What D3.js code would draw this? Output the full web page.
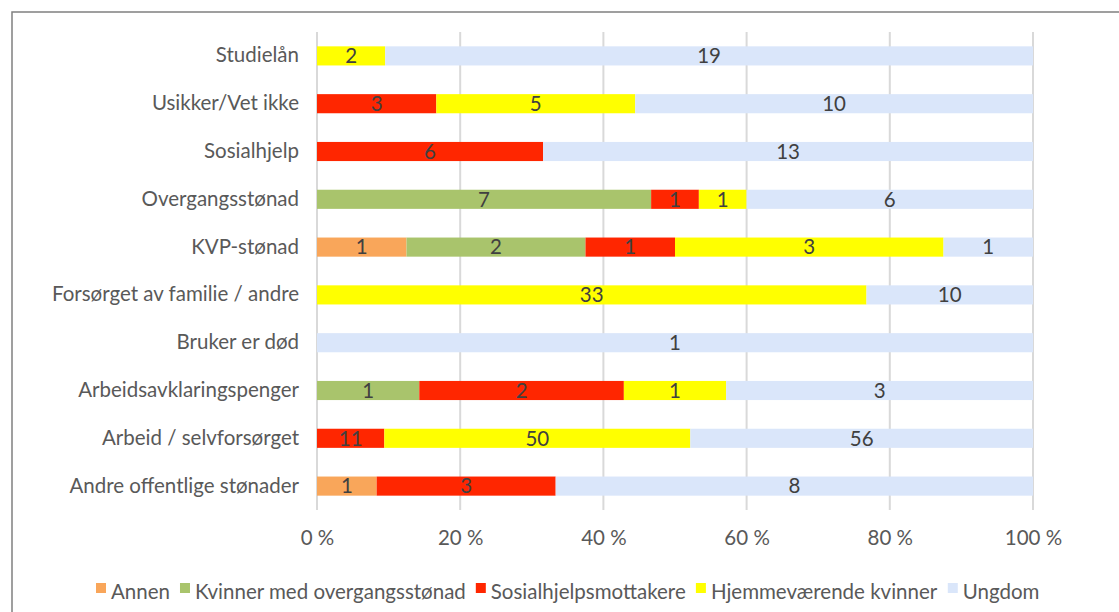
<!DOCTYPE html>
<html>
<head>
<meta charset="utf-8">
<script src="https://cdn.jsdelivr.net/npm/d3@7"></script>
<style>
  body { margin: 0; background: #fff; }
  svg text { font-family: Lato, "Open Sans", sans-serif; }
</style>
</head>
<body>
<svg id="chart" width="1119" height="612"></svg>
<script>
var categories = ['Studielån', 'Usikker/Vet ikke', 'Sosialhjelp', 'Overgangsstønad', 'KVP-stønad',
    'Forsørget av familie / andre', 'Bruker er død', 'Arbeidsavklaringspenger',
    'Arbeid / selvforsørget', 'Andre offentlige stønader'];
var seriesNames = ['Annen', 'Kvinner med overgangsstønad', 'Sosialhjelpsmottakere', 'Hjemmeværende kvinner', 'Ungdom'];
var annen      = [0, 0, 0, 0, 1, 0, 0, 0, 0, 1];
var kvinner    = [0, 0, 0, 7, 2, 0, 0, 1, 0, 0];
var sosial     = [0, 3, 6, 1, 1, 0, 0, 2, 11, 3];
var hjemme     = [2, 5, 0, 1, 3, 33, 0, 1, 50, 0];
var ungdom     = [19, 10, 13, 6, 1, 10, 1, 3, 56, 8];
var tickValues = [0, 0.2, 0.4, 0.6, 0.8, 1];
var tickLabels = ['0 %', '20 %', '40 %', '60 %', '80 %', '100 %'];

var color = d3.scaleOrdinal()
    .domain(seriesNames)
    .range(['#F9A65A', '#A9C46C', '#FF2600', '#FFFF00', '#DAE6FA']);

var fontSize = '20.5px';
var svg = d3.select('#chart');

// outer frame (cropped on the right/bottom like the source)
svg.append('rect')
    .attr('x', 12).attr('y', 12)
    .attr('width', 1130).attr('height', 620)
    .attr('fill', 'none')
    .attr('stroke', '#808080')
    .attr('stroke-width', 1.5);

var margin = {top: 32, left: 317},
    width = 1033 - 317,
    height = 510 - 32;

var g = svg.append('g').attr('transform', 'translate(' + margin.left + ',' + margin.top + ')');

var rows = categories.map(function (c, i) {
    return {cat: c, Annen: annen[i], 'Kvinner med overgangsstønad': kvinner[i],
        'Sosialhjelpsmottakere': sosial[i], 'Hjemmeværende kvinner': hjemme[i], Ungdom: ungdom[i]};
});

var stacked = d3.stack().keys(seriesNames).offset(d3.stackOffsetExpand)(rows);

var x = d3.scaleLinear().domain([0, 1]).range([0, width]);
var y = d3.scaleBand().domain(categories).range([0, height]).paddingInner(0.6).paddingOuter(0.3);

// gridlines
g.append('g')
    .selectAll('line')
    .data(tickValues)
    .enter().append('line')
    .attr('x1', function (d) { return x(d); })
    .attr('x2', function (d) { return x(d); })
    .attr('y1', 0).attr('y2', height)
    .attr('stroke', '#D9D9D9')
    .attr('stroke-width', 2);

var layer = g.selectAll('.layer')
    .data(stacked)
    .enter().append('g')
    .attr('class', 'layer')
    .attr('fill', function (d) { return color(d.key); });

layer.selectAll('rect')
    .data(function (d) { return d; })
    .enter().append('rect')
    .attr('x', function (d) { return x(d[0]); })
    .attr('y', function (d) { return y(d.data.cat); })
    .attr('width', function (d) { return x(d[1]) - x(d[0]); })
    .attr('height', y.bandwidth());

// data labels
layer.each(function (s) {
    d3.select(this).selectAll('text')
        .data(s.filter(function (d) { return d.data[s.key] > 0; }))
        .enter().append('text')
        .attr('x', function (d) { return (x(d[0]) + x(d[1])) / 2; })
        .attr('y', function (d) { return y(d.data.cat) + y.bandwidth() / 2; })
        .attr('dy', '0.36em')
        .attr('text-anchor', 'middle')
        .attr('fill', '#404040')
        .style('font-size', fontSize)
        .text(function (d) { return d.data[s.key]; });
});

// category axis
var yAxis = g.append('g').call(d3.axisLeft(y).tickSize(0).tickPadding(18));
yAxis.select('.domain').remove();
yAxis.selectAll('text')
    .attr('fill', '#595959')
    .style('font-size', fontSize);

// value axis
var xAxis = g.append('g')
    .attr('transform', 'translate(0,' + height + ')')
    .call(d3.axisBottom(x).tickValues(tickValues).tickSize(0).tickPadding(20)
        .tickFormat(function (d, i) { return tickLabels[i]; }));
xAxis.select('.domain').remove();
xAxis.selectAll('text')
    .attr('fill', '#595959')
    .style('font-size', fontSize);

// legend, laid out by measured text widths
var legend = svg.append('g').attr('transform', 'translate(96,592)');
var items = legend.selectAll('g')
    .data(seriesNames)
    .enter().append('g');
items.append('rect')
    .attr('y', -9)
    .attr('width', 10).attr('height', 10)
    .attr('fill', function (d) { return color(d); });
items.append('text')
    .attr('x', 15).attr('y', 0)
    .attr('dy', '0.36em')
    .attr('fill', '#595959')
    .style('font-size', fontSize)
    .text(function (d) { return d; });
var pos = 0;
items.each(function () {
    var w = this.getBBox().width;
    d3.select(this).attr('transform', 'translate(' + pos + ',0)');
    pos += w + 10;
});
</script>
</body>
</html>
